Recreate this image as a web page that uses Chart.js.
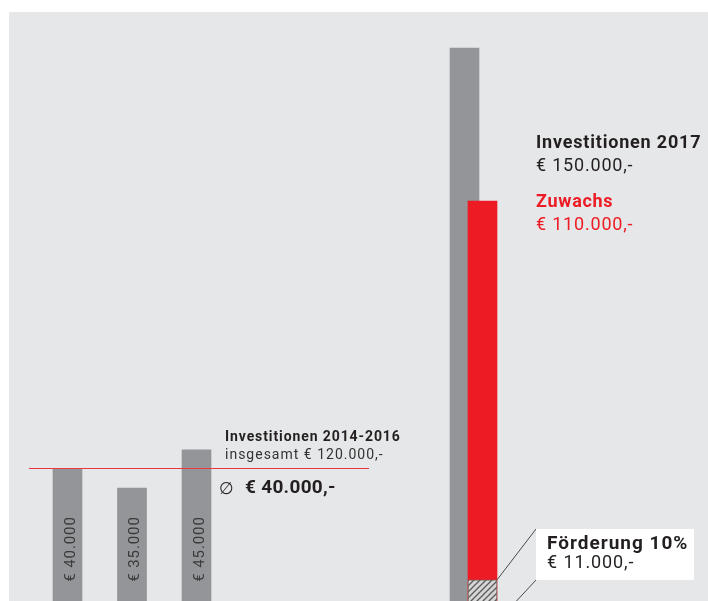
<!DOCTYPE html>
<html lang="de">
<head>
<meta charset="utf-8">
<title>Investitionen</title>
<script src="https://cdn.jsdelivr.net/npm/chart.js@4.4.1/dist/chart.umd.min.js"></script>
<style>
  html, body { margin: 0; padding: 0; background: #fff; }
  body { width: 708px; height: 601px; overflow: hidden; position: relative; }
  #flaeche { position: absolute; left: 9px; top: 12px; right: 0; bottom: 0; background: #e6e7e8; }
  canvas { position: absolute; top: 0; }
  #grafLinks  { left: 0; }
  #grafRechts { left: 430px; }
</style>
</head>
<body>
<div id="flaeche"></div>
<canvas id="grafLinks" width="430" height="640"></canvas>
<canvas id="grafRechts" width="278" height="640"></canvas>
<script>
// Daten
const jahre       = ['2014', '2015', '2016'];
const invest      = [40000, 35000, 45000];
const labels2017  = ['Investitionen 2017', 'Zuwachs'];
const invest2017  = [150000];
const zuwachs     = [110000];
const foerderung  = [11000];
const maxWert     = 150000;

const GRAU    = '#939598';
const ROT     = '#ed1c24';
const DUNKEL  = '#231f20';
const SCHRIFT = 'Roboto, "Open Sans", sans-serif';

const euro = v => '€ ' + String(v).replace(/\B(?=(\d{3})+(?!\d))/g, '.');

// Schraffur fuer Foerderung
function schraffur() {
  const c = document.createElement('canvas');
  c.width = 6; c.height = 6;
  const g = c.getContext('2d');
  g.fillStyle = '#d6d6d6';
  g.fillRect(0, 0, 6, 6);
  g.strokeStyle = '#5a5a5a';
  g.lineWidth = 1.3;
  g.beginPath();
  g.moveTo(-1, 7); g.lineTo(7, -1);
  g.moveTo(-1, 1); g.lineTo(1, -1);
  g.moveTo(5, 7); g.lineTo(7, 5);
  g.stroke();
  return g.createPattern(c, 'repeat');
}

function schreibe(ctx, text, x, y, font, farbe, abstand) {
  ctx.font = font;
  ctx.fillStyle = farbe;
  ctx.letterSpacing = abstand || '0px';
  ctx.fillText(text, x, y);
}

const basis = {
  responsive: false, animation: false, events: [],
  plugins: { legend: { display: false }, tooltip: { enabled: false } }
};

const textLinks = {
  id: 'textLinks',
  afterDatasetsDraw(chart) {
    const { ctx, chartArea, scales: { y } } = chart;
    const summe   = invest.reduce((s, v) => s + v, 0);
    const schnitt = summe / invest.length;
    const yAvg    = Math.round(y.getPixelForValue(schnitt)) - 0.5;

    ctx.save();
    ctx.strokeStyle = '#e8373e';
    ctx.lineWidth = 1;
    ctx.beginPath();
    ctx.moveTo(29, yAvg);
    ctx.lineTo(369, yAvg);
    ctx.stroke();

    // Werte senkrecht in den Balken
    ctx.textAlign = 'center';
    chart.getDatasetMeta(0).data.forEach((bar, i) => {
      ctx.save();
      ctx.translate(bar.x + 7, chartArea.bottom - 73);
      ctx.rotate(-Math.PI / 2);
      schreibe(ctx, euro(invest[i]), 0, 0, '15px ' + SCHRIFT, '#3a3a3a', '0.9px');
      ctx.restore();
    });

    ctx.textAlign = 'left';
    schreibe(ctx, 'Investitionen ' + jahre[0] + '-' + jahre[jahre.length - 1], 225, 441,
      'bold 14px ' + SCHRIFT, DUNKEL, '0.9px');
    schreibe(ctx, 'insgesamt ' + euro(summe) + ',-', 225, 459, '14px ' + SCHRIFT, '#333', '1px');
    schreibe(ctx, '∅', 219, 494, '17px "DejaVu Sans", sans-serif', DUNKEL);
    schreibe(ctx, euro(schnitt) + ',-', 245, 493, 'bold 19px ' + SCHRIFT, DUNKEL, '0.3px');
    ctx.restore();
  }
};

const textRechts = {
  id: 'textRechts',
  afterDatasetsDraw(chart) {
    const { ctx, chartArea, scales: { y } } = chart;
    const fBar  = chart.getDatasetMeta(0).data[1];
    const xR    = fBar.x + fBar.width / 2;
    const boxX  = 106, boxY = 529, boxW = 158, boxH = 51;

    ctx.save();
    // Hinweislinien
    ctx.strokeStyle = '#4a4a4a';
    ctx.lineWidth = 1;
    ctx.beginPath();
    ctx.moveTo(xR, y.getPixelForValue(foerderung[0]));
    ctx.lineTo(boxX, boxY);
    ctx.moveTo(xR, chartArea.bottom);
    ctx.lineTo(boxX, boxY + boxH);
    ctx.stroke();

    ctx.fillStyle = '#fff';
    ctx.fillRect(boxX, boxY, boxW, boxH);

    ctx.textAlign = 'left';
    schreibe(ctx, labels2017[0], 106, 148, 'bold 18px ' + SCHRIFT, DUNKEL, '0.8px');
    schreibe(ctx, euro(invest2017[0]) + ',-', 106, 171, '18px ' + SCHRIFT, DUNKEL, '0.8px');
    schreibe(ctx, labels2017[1], 106, 207, 'bold 18px ' + SCHRIFT, ROT, '0.7px');
    schreibe(ctx, euro(zuwachs[0]) + ',-', 106, 230, '18px ' + SCHRIFT, ROT, '0.8px');

    const prozent = Math.round(foerderung[0] / zuwachs[0] * 100);
    schreibe(ctx, 'Förderung ' + prozent + '%', 117, 549, 'bold 19px ' + SCHRIFT, DUNKEL, '1px');
    schreibe(ctx, euro(foerderung[0]) + ',-', 117, 568, '18px ' + SCHRIFT, DUNKEL, '0.9px');
    ctx.restore();
  }
};

new Chart(document.getElementById('grafLinks'), {
  type: 'bar',
  data: {
    labels: jahre,
    datasets: [{ label: 'Investitionen', data: invest, backgroundColor: GRAU, borderWidth: 0, barThickness: 29, clip: false }]
  },
  options: {
    ...basis,
    layout: { padding: { left: 35.25, right: 201.25, top: 48, bottom: 18 } },
    scales: {
      x: { display: false },
      y: { display: false, min: 0, max: maxWert }
    }
  },
  plugins: [textLinks]
});

new Chart(document.getElementById('grafRechts'), {
  type: 'bar',
  data: {
    labels: labels2017,
    datasets: [
      { label: 'Förderung', data: [null, foerderung[0]], backgroundColor: schraffur(),
        borderColor: '#7a5e5e', borderWidth: { top: 1, left: 1, right: 1, bottom: 0 }, barThickness: 29, clip: false },
      { label: 'Zuwachs', data: [null, zuwachs[0]], backgroundColor: ROT, borderWidth: 0, barThickness: 29, clip: false },
      { label: 'Investitionen 2017', data: [invest2017[0], null], backgroundColor: GRAU, borderWidth: 0, barThickness: 29, clip: false }
    ]
  },
  options: {
    ...basis,
    layout: { padding: { left: 25.5, right: 216.5, top: 48, bottom: 18 } },
    scales: {
      x: { display: false, stacked: true },
      y: { display: false, min: 0, max: maxWert }
    }
  },
  plugins: [textRechts]
});
</script>
</body>
</html>
